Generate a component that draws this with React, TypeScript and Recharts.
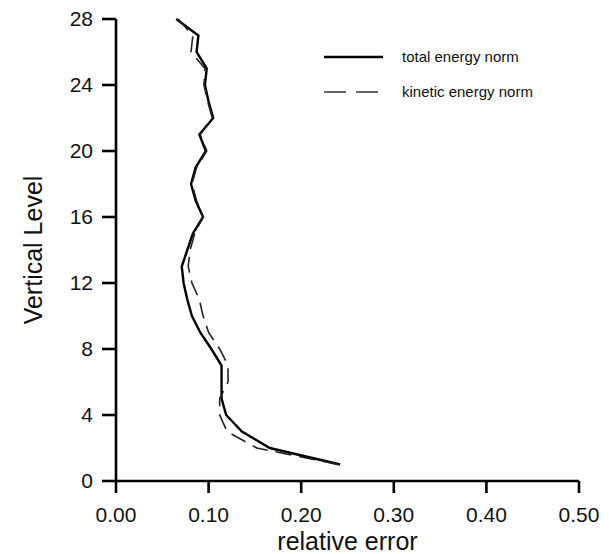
import React from 'react';
import { LineChart, Line, XAxis, YAxis } from 'recharts';

// vertical levels 1..28 (bottom to top)
const levels = [1, 2, 3, 4, 5, 6, 7, 8, 9, 10, 11, 12, 13, 14, 15, 16, 17, 18, 19, 20, 21, 22, 23, 24, 25, 26, 27, 28];

const totalNorm = [
  0.242, 0.166, 0.136, 0.119, 0.114, 0.114, 0.114, 0.103, 0.091, 0.082,
  0.077, 0.073, 0.071, 0.077, 0.083, 0.094, 0.086, 0.081, 0.086, 0.097,
  0.090, 0.105, 0.100, 0.096, 0.098, 0.087, 0.089, 0.065,
];

const kineticNorm = [
  0.240, 0.152, 0.120, 0.112, 0.112, 0.121, 0.121, 0.112, 0.100, 0.094,
  0.090, 0.082, 0.078, 0.080, 0.085, 0.094, 0.087, 0.082, 0.087, 0.098,
  0.091, 0.104, 0.099, 0.095, 0.096, 0.081, 0.083, 0.067,
];

const xTicks = [0, 0.1, 0.2, 0.3, 0.4, 0.5];
const yTicks = [0, 4, 8, 12, 16, 20, 24, 28];

const data = levels.map((level, i) => ({
  level,
  total: totalNorm[i],
  kinetic: kineticNorm[i],
}));

const FONT = 'Arial, "Liberation Sans", Helvetica, sans-serif';

const LegendBox = () => (
  <svg width={240} height={70}>
    <line x1={4} y1={17} x2={63} y2={17} stroke="#000" strokeWidth={2.4} />
    <text x={82} y={17} dy="0.35em" fontSize={15} fontFamily={FONT} fill="#111">
      total energy norm
    </text>
    <line x1={4} y1={52} x2={58} y2={52} stroke="#333" strokeWidth={1.6} strokeDasharray="22 10" />
    <text x={82} y={52} dy="0.35em" fontSize={15} fontFamily={FONT} fill="#111">
      kinetic energy norm
    </text>
  </svg>
);

const App: React.FC = () => {
  return (
    <div style={{ position: 'absolute', left: 0, top: 0, width: 609, height: 554, background: '#fff' }}>
      <LineChart
        width={609}
        height={554}
        data={data}
        layout="vertical"
        margin={{ top: 19, right: 30, left: 0, bottom: 0 }}
      >
        <XAxis
          type="number"
          domain={[0, 0.5]}
          ticks={xTicks}
          tickFormatter={(v: number) => v.toFixed(2)}
          height={73}
          tickSize={12}
          tickMargin={14}
          axisLine={{ stroke: '#000', strokeWidth: 2.6 }}
          tickLine={{ stroke: '#000', strokeWidth: 2.6 }}
          tick={{ fill: '#111', fontSize: 21, fontFamily: FONT }}
          label={{
            value: 'relative error',
            position: 'insideBottom',
            offset: 4,
            fill: '#111',
            fontSize: 25,
            fontFamily: FONT,
          }}
        />
        <YAxis
          type="number"
          dataKey="level"
          domain={[0, 28]}
          ticks={yTicks}
          reversed
          width={116}
          tickSize={14}
          tickMargin={9}
          axisLine={{ stroke: '#000', strokeWidth: 2.6 }}
          tickLine={{ stroke: '#000', strokeWidth: 2.6 }}
          tick={{ fill: '#111', fontSize: 21, fontFamily: FONT }}
          label={{
            value: 'Vertical Level',
            angle: -90,
            position: 'insideLeft',
            offset: 33,
            fill: '#111',
            fontSize: 25,
            fontFamily: FONT,
            style: { textAnchor: 'middle' },
          }}
        />
        <Line
          dataKey="total"
          name="total energy norm"
          stroke="#000"
          strokeWidth={2.4}
          dot={false}
          isAnimationActive={false}
        />
        <Line
          dataKey="kinetic"
          name="kinetic energy norm"
          stroke="#222"
          strokeWidth={1.6}
          strokeDasharray="16 8"
          dot={false}
          isAnimationActive={false}
        />
      </LineChart>
      <div style={{ position: 'absolute', left: 320, top: 40, pointerEvents: 'none' }}>
        <LegendBox />
      </div>
    </div>
  );
};

export default App;
